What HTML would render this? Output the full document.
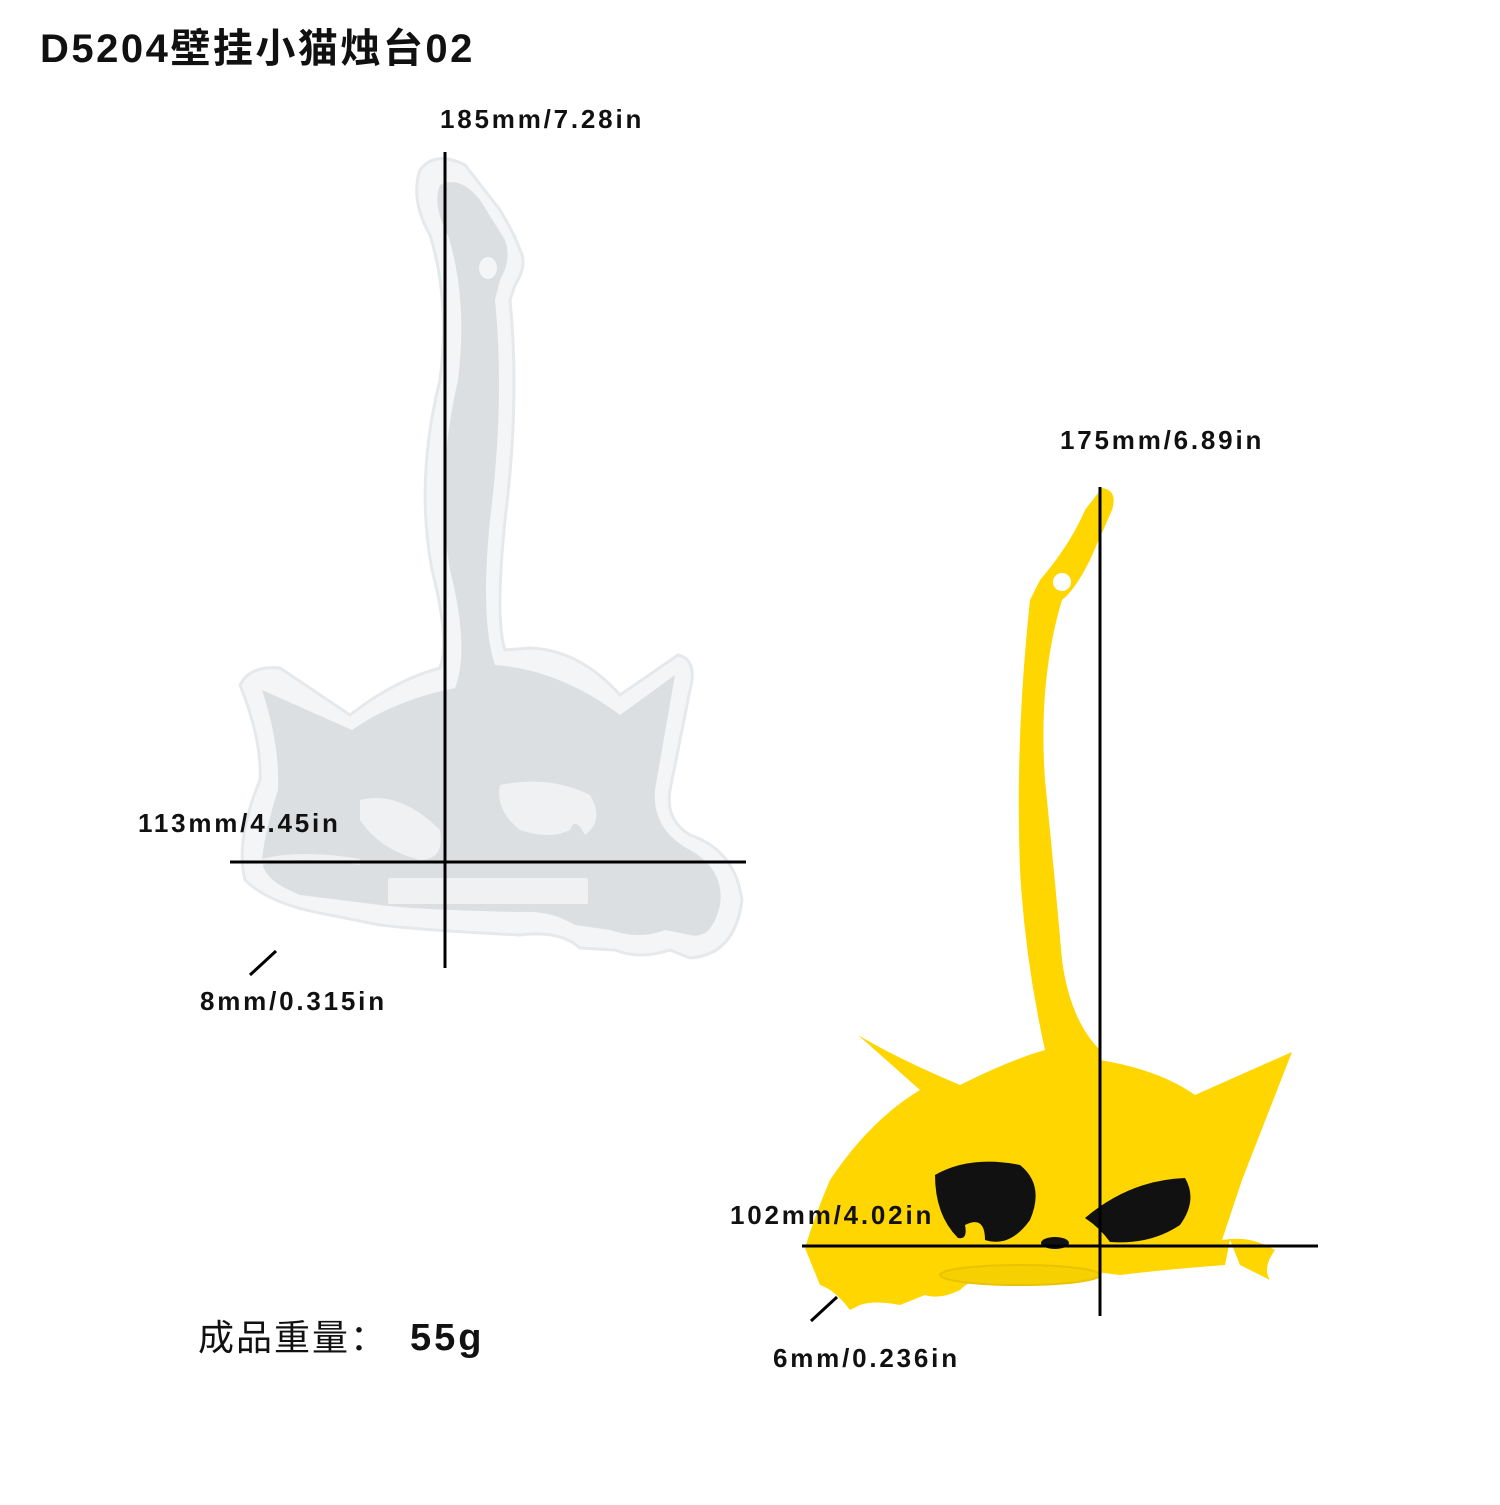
<!DOCTYPE html>
<html><head><meta charset="utf-8"><style>
body{margin:0;background:#fff;}
.t{font-family:"Liberation Sans","Noto Sans CJK SC",sans-serif;fill:#111;}
</style></head><body>
<svg width="1500" height="1500" viewBox="0 0 1500 1500" xmlns="http://www.w3.org/2000/svg">
<rect width="1500" height="1500" fill="#fff"/>
<text x="40" y="62" class="t" font-size="40" font-weight="bold" letter-spacing="2.5">D5204壁挂小猫烛台02</text>

<path d="M420 170 Q435 150 465 165 L500 210 Q515 235 520 250 Q528 265 515 285 L510 300 Q520 400 505 520 Q495 620 505 650 L530 648 Q580 650 620 695 L678 655 Q698 660 690 690 L670 790 Q665 820 690 835 Q735 850 742 900 Q735 955 690 958 L670 950 Q640 960 615 950 L580 948 Q560 930 520 935 Q420 930 380 925 L330 915 Q270 905 245 880 Q235 840 260 780 Q262 740 240 685 Q250 665 280 668 L350 715 Q395 680 440 668 Q450 640 432 570 Q415 480 440 380 Q450 300 430 235 Q410 200 420 170Z" fill="#f3f5f7" stroke="#e6e9ec" stroke-width="3"/>
<path d="M440 185 Q460 175 480 200 L505 240 Q512 260 500 280 L495 300 Q505 400 490 520 Q480 620 495 665 Q560 670 620 715 L675 675 L655 790 Q652 830 690 850 Q725 870 720 905 Q712 940 690 935 L665 930 Q640 940 610 930 L575 925 Q550 910 520 912 Q420 910 380 905 L300 895 Q262 880 262 860 Q265 830 278 790 Q280 745 262 690 L352 730 Q395 700 455 688 Q470 650 450 570 Q435 480 458 380 Q468 300 448 235 Q432 205 440 185Z" fill="#dcdfe2"/>
<ellipse cx="488" cy="268" rx="9" ry="11" fill="#f3f5f7"/>
<path d="M360 800 Q400 790 440 830 Q445 860 420 860 Q380 850 360 820Z" fill="#eff1f3"/>
<path d="M500 785 Q550 775 590 795 Q605 820 585 835 Q575 815 570 830 Q550 840 520 830 Q495 810 500 785Z" fill="#eff1f3"/>
<rect x="388" y="878" width="200" height="26" rx="2" fill="#eff1f3"/>
<path d="M262 862 Q300 852 360 862" stroke="#eff1f3" stroke-width="6" fill="none"/>

<line x1="445" y1="152" x2="445" y2="968" stroke="#000" stroke-width="3"/>
<line x1="230" y1="862" x2="746" y2="862" stroke="#000" stroke-width="3"/>
<line x1="250" y1="975" x2="276" y2="951" stroke="#000" stroke-width="3"/>
<text x="440" y="128" class="t" font-size="26" font-weight="bold" letter-spacing="2.8">185mm/7.28in</text>
<text x="138" y="832" class="t" font-size="26" font-weight="bold" letter-spacing="2.8">113mm/4.45in</text>
<text x="200" y="1010" class="t" font-size="26" font-weight="bold" letter-spacing="2.8">8mm/0.315in</text>
<text x="198" y="1350" class="t" font-size="36" letter-spacing="2">成品重量：</text>
<text x="410" y="1350" class="t" font-size="38" font-weight="bold" letter-spacing="3">55g</text>

<path d="M1102 488 Q1118 490 1112 510 L1090 560 Q1075 590 1062 600 Q1038 680 1045 780 Q1055 880 1062 960 Q1070 1020 1100 1050 L1100 1060 Q1160 1070 1195 1095 L1292 1052 L1242 1180 L1222 1240 Q1250 1235 1275 1250 Q1262 1268 1270 1280 L1240 1265 L1230 1240 L1225 1265 Q1160 1270 1120 1275 L1040 1265 Q980 1270 960 1290 Q940 1300 925 1295 L900 1305 Q875 1300 860 1305 L850 1310 Q835 1290 820 1285 L805 1248 Q815 1215 830 1180 Q870 1120 920 1090 L858 1035 Q900 1060 960 1085 Q1010 1060 1045 1050 Q1025 960 1020 870 Q1015 740 1030 600 L1040 580 Q1070 545 1085 510 Z" fill="#ffd600"/>
<circle cx="1062" cy="582" r="9" fill="#fff"/>
<path d="M935 1175 Q970 1155 1020 1165 Q1045 1185 1030 1220 Q1010 1248 985 1240 Q985 1215 965 1225 Q968 1240 958 1238 Q935 1215 935 1175Z" fill="#111"/>
<path d="M1085 1218 Q1130 1180 1185 1178 Q1198 1200 1180 1225 Q1150 1245 1110 1242 Q1100 1228 1085 1218Z" fill="#111"/>
<ellipse cx="1055" cy="1243" rx="14" ry="6" fill="#111"/>
<ellipse cx="1020" cy="1275" rx="80" ry="10" fill="#f7d000" stroke="#e8c400" stroke-width="2"/>

<line x1="1100" y1="487" x2="1100" y2="1316" stroke="#000" stroke-width="3"/>
<line x1="802" y1="1246" x2="1318" y2="1246" stroke="#000" stroke-width="3"/>
<line x1="811" y1="1321" x2="837" y2="1297" stroke="#000" stroke-width="3"/>
<text x="1060" y="449" class="t" font-size="26" font-weight="bold" letter-spacing="2.8">175mm/6.89in</text>
<text x="730" y="1224" class="t" font-size="26" font-weight="bold" letter-spacing="2.8">102mm/4.02in</text>
<text x="773" y="1367" class="t" font-size="26" font-weight="bold" letter-spacing="2.8">6mm/0.236in</text>
</svg>
</body></html>
